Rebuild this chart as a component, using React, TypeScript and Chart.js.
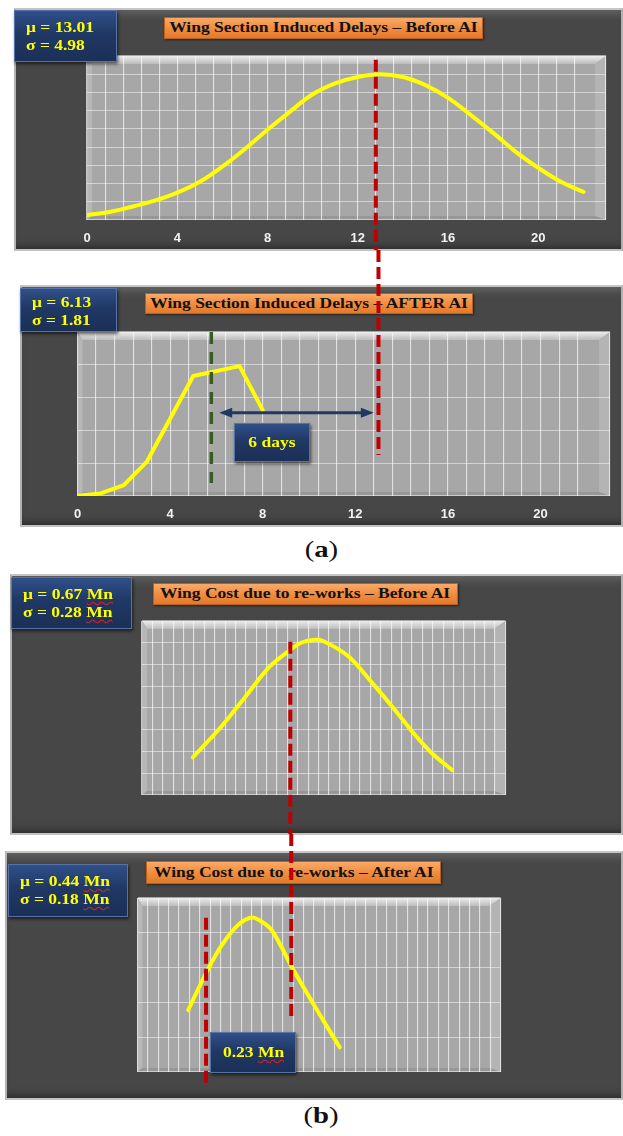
import React, { useEffect, useRef } from 'react';
import { Chart, registerables } from 'chart.js';

Chart.register(...registerables);

// ---------------- data ----------------
// (a) Wing section induced delays (days)
const DELAY_X_BEFORE = [0, 1, 2, 3, 4, 5, 6, 7, 8, 9, 10, 11, 12, 13, 14, 15, 16, 17, 18, 19, 20, 21, 22];
const DELAY_Y_BEFORE = [0.27, 0.44, 0.73, 1.06, 1.5, 2.1, 2.93, 3.9, 4.95, 5.95, 6.9, 7.5, 7.85, 8.0, 7.85, 7.4, 6.7, 5.77, 4.78, 3.74, 2.86, 2.1, 1.54];
const DELAY_X_AFTER = [0, 1, 2, 3, 5, 7, 8];
const DELAY_Y_AFTER = [0.01, 0.08, 0.33, 1.05, 3.66, 3.96, 2.62];
const DELAY_TICKS = [0, 4, 8, 12, 16, 20];
const DELAY_MEAN_LINE_BEFORE = 12.8;
const DELAY_MEAN_LINE_REF = 13.0;
const DELAY_MEAN_LINE_AFTER = 5.78;
const DELAY_GAP_RANGE = [6.12, 12.8];
const DELAY_GAP_LEVEL = 2.54;

// (b) Wing cost due to re-works (Mn)
const COST_X_BEFORE = [0.407, 0.48, 0.549, 0.614, 0.672, 0.699, 0.731, 0.758, 0.828, 0.892, 0.945, 0.999, 1.052, 1.106];
const COST_Y_BEFORE = [1.73, 3.07, 4.52, 5.9, 6.7, 7.0, 7.13, 7.08, 6.36, 5.13, 4.06, 2.91, 1.92, 1.15];
const COST_X_AFTER = [0.392, 0.44, 0.483, 0.526, 0.558, 0.579, 0.617, 0.676, 0.729, 0.772, 0.801];
const COST_Y_AFTER = [1.78, 2.84, 3.65, 4.22, 4.43, 4.39, 4.08, 2.93, 1.97, 1.21, 0.71];
const COST_MEAN_LINE_BEFORE = 0.67;
const COST_MEAN_LINE_AFTER = 0.44;

// texts
const TITLE_A1 = 'Wing Section Induced Delays – Before AI';
const TITLE_A2 = 'Wing Section Induced Delays – AFTER AI';
const TITLE_B1 = 'Wing Cost due to re-works – Before AI';
const TITLE_B2 = 'Wing Cost due to re-works – After AI';
const STATS_A1 = ['μ = 13.01', 'σ = 4.98'];
const STATS_A2 = ['μ = 6.13', 'σ = 1.81'];
const STATS_B1 = ['μ = 0.67', 'σ = 0.28'];
const STATS_B2 = ['μ = 0.44', 'σ = 0.18'];
const GAP_A = '6 days';
const GAP_B = '0.23';

// ---------------- styles ----------------
const SERIF = '"Liberation Serif", "Times New Roman", serif';
const RED = '#c00000';
const GREEN = '#3a5a24';
const NAVY = '#1f3864';

type Guide = { x: number; from: number | 'top'; to: number | 'bottom'; color: string; width: number; dash: number[] };

type Spec = {
  canvas: { left: number; top: number; width: number; height: number };
  pad: { left: number; right: number; top: number };
  axisH: number;
  xs: number[];
  ys: number[];
  xMin: number;
  xMax: number;
  yMax: number;
  xStep?: number;
  xCount?: number;
  showTicks: boolean;
  tension: number;
  guides: Guide[];
  arrow?: { x0: number; x1: number; y: number };
};

function makeConfig(s: Spec): any {
  const bevel = {
    id: 'bevel',
    beforeDraw(chart: any) {
      const { ctx, chartArea: a } = chart;
      ctx.save();
      ctx.fillStyle = '#a7a7a7';
      ctx.fillRect(a.left, a.top, a.width, a.height);
      const t = 8, r = 11, l = 5, b = 4;
      let g = ctx.createLinearGradient(0, a.top, 0, a.top + t);
      g.addColorStop(0, '#ececec');
      g.addColorStop(1, '#bcbcbc');
      ctx.fillStyle = g;
      ctx.beginPath();
      ctx.moveTo(a.left, a.top);
      ctx.lineTo(a.right, a.top);
      ctx.lineTo(a.right - r, a.top + t);
      ctx.lineTo(a.left + l, a.top + t);
      ctx.closePath();
      ctx.fill();
      ctx.fillStyle = '#b4b4b4';
      ctx.beginPath();
      ctx.moveTo(a.right, a.top);
      ctx.lineTo(a.right, a.bottom);
      ctx.lineTo(a.right - r, a.bottom - b);
      ctx.lineTo(a.right - r, a.top + t);
      ctx.closePath();
      ctx.fill();
      ctx.fillStyle = '#b7b7b7';
      ctx.beginPath();
      ctx.moveTo(a.left, a.top);
      ctx.lineTo(a.left + l, a.top + t);
      ctx.lineTo(a.left + l, a.bottom - b);
      ctx.lineTo(a.left, a.bottom);
      ctx.closePath();
      ctx.fill();
      ctx.fillStyle = '#979797';
      ctx.beginPath();
      ctx.moveTo(a.left, a.bottom);
      ctx.lineTo(a.left + l, a.bottom - b);
      ctx.lineTo(a.right - r, a.bottom - b);
      ctx.lineTo(a.right, a.bottom);
      ctx.closePath();
      ctx.fill();
      ctx.restore();
    },
  };
  const guides = {
    id: 'guides',
    afterDatasetsDraw(chart: any) {
      const { ctx } = chart;
      const xs = chart.scales.x;
      const ys = chart.scales.y;
      ctx.save();
      for (const gd of s.guides) {
        const px = xs.getPixelForValue(gd.x);
        const y0 = gd.from === 'top' ? 0 : ys.getPixelForValue(gd.from);
        const y1 = gd.to === 'bottom' ? chart.height : ys.getPixelForValue(gd.to);
        ctx.strokeStyle = gd.color;
        ctx.lineWidth = gd.width;
        ctx.setLineDash(gd.dash);
        ctx.beginPath();
        ctx.moveTo(px, y0);
        ctx.lineTo(px, y1);
        ctx.stroke();
      }
      if (s.arrow) {
        const x0 = xs.getPixelForValue(s.arrow.x0);
        const x1 = xs.getPixelForValue(s.arrow.x1);
        const y = ys.getPixelForValue(s.arrow.y);
        const hl = 13, hw = 5;
        ctx.setLineDash([]);
        ctx.strokeStyle = NAVY;
        ctx.fillStyle = NAVY;
        ctx.lineWidth = 3;
        ctx.beginPath();
        ctx.moveTo(x0 + hl - 2, y);
        ctx.lineTo(x1 - hl + 2, y);
        ctx.stroke();
        ctx.beginPath();
        ctx.moveTo(x0, y);
        ctx.lineTo(x0 + hl, y - hw);
        ctx.lineTo(x0 + hl, y + hw);
        ctx.closePath();
        ctx.fill();
        ctx.beginPath();
        ctx.moveTo(x1, y);
        ctx.lineTo(x1 - hl, y - hw);
        ctx.lineTo(x1 - hl, y + hw);
        ctx.closePath();
        ctx.fill();
      }
      ctx.restore();
    },
  };
  const xTicks: any = {
    display: s.showTicks,
    autoSkip: false,
    maxRotation: 0,
    minRotation: 0,
    padding: 11,
    color: '#f2f2f2',
    font: { family: '"Liberation Sans", Arial, sans-serif', weight: 'bold', size: 13 },
    callback: (v: any) => {
      const n = Number(v);
      return DELAY_TICKS.some((t) => Math.abs(t - n) < 1e-6) ? String(Math.round(n)) : '';
    },
  };
  if (s.xStep) xTicks.stepSize = s.xStep;
  if (s.xCount) xTicks.count = s.xCount;
  return {
    type: 'line',
    data: {
      datasets: [
        {
          data: s.xs.map((x, i) => ({ x, y: s.ys[i] })),
          borderColor: '#ffff00',
          borderWidth: 4,
          pointRadius: 0,
          tension: s.tension,
          fill: false,
          borderCapStyle: 'round',
          borderJoinStyle: 'round',
        },
      ],
    },
    options: {
      animation: false,
      responsive: false,
      events: [],
      layout: { padding: { left: s.pad.left, right: s.pad.right, top: s.pad.top, bottom: 0 } },
      plugins: { legend: { display: false }, tooltip: { enabled: false }, title: { display: false } },
      scales: {
        x: {
          type: 'linear',
          min: s.xMin,
          max: s.xMax,
          afterFit: (sc: any) => {
            sc.height = s.axisH;
          },
          border: { display: false },
          grid: { color: 'rgba(250,250,250,0.72)', lineWidth: 1.1, drawTicks: false },
          ticks: xTicks,
        },
        y: {
          type: 'linear',
          min: 0,
          max: s.yMax,
          afterFit: (sc: any) => {
            sc.width = 0;
          },
          border: { display: false },
          grid: { color: 'rgba(245,245,245,0.55)', lineWidth: 1.1, drawTicks: false },
          ticks: { display: false, stepSize: 1 },
        },
      },
    },
    plugins: [bevel, guides],
  };
}

function ChartCanvas({ spec }: { spec: Spec }) {
  const ref = useRef<HTMLCanvasElement>(null);
  useEffect(() => {
    const chart = new Chart(ref.current as HTMLCanvasElement, makeConfig(spec));
    return () => chart.destroy();
  }, []);
  const c = spec.canvas;
  return (
    <canvas
      ref={ref}
      width={c.width}
      height={c.height}
      style={{ position: 'absolute', left: c.left, top: c.top, width: c.width, height: c.height, zIndex: 2 }}
    />
  );
}

function Stretch({ children, origin = 'center' }: { children: any; origin?: string }) {
  return (
    <span style={{ display: 'inline-block', transform: 'scaleX(1.25)', transformOrigin: origin, whiteSpace: 'nowrap' }}>
      {children}
    </span>
  );
}

function Mn() {
  return (
    <span style={{ textDecorationLine: 'underline', textDecorationStyle: 'wavy', textDecorationColor: '#e02020', textDecorationThickness: '1px', textUnderlineOffset: '2px' }}>
      Mn
    </span>
  );
}

function Panel({ left, top, width, height }: { left: number; top: number; width: number; height: number }) {
  return (
    <div
      style={{
        position: 'absolute',
        left,
        top,
        width,
        height,
        boxSizing: 'border-box',
        background: '#474747',
        borderTop: '2px solid #c6c6c6',
        borderLeft: '2px solid #b3b3b3',
        borderBottom: '2px solid #c2c2c2',
        borderRight: '2px solid #b0b0b0',
        boxShadow: 'inset 0 10px 8px -6px rgba(255,255,255,0.16), inset 0 -8px 8px -6px rgba(0,0,0,0.45)',
        zIndex: 0,
      }}
    />
  );
}

function Title({ left, top, width, height, text }: { left: number; top: number; width: number; height: number; text: string }) {
  return (
    <div
      style={{
        position: 'absolute',
        left,
        top,
        width,
        height,
        boxSizing: 'border-box',
        background: 'linear-gradient(#f9aa66, #f08b3e 55%, #e37a2c)',
        border: '1px solid #b9601f',
        boxShadow: '1px 1px 2px rgba(0,0,0,0.5)',
        display: 'flex',
        alignItems: 'center',
        justifyContent: 'center',
        font: `bold 14px ${SERIF}`,
        color: '#121212',
        zIndex: 1,
      }}
    >
      <Stretch>{text}</Stretch>
    </div>
  );
}

const blueBg = 'linear-gradient(#30508a, #203864 45%, #1b3058)';

function StatBox({ left, top, width, height, padTop, lines, unit }: { left: number; top: number; width: number; height: number; padTop: number; lines: string[]; unit: boolean }) {
  return (
    <div
      style={{
        position: 'absolute',
        left,
        top,
        width,
        height,
        boxSizing: 'border-box',
        background: blueBg,
        border: '1px solid #5673a3',
        boxShadow: '1px 2px 3px rgba(0,0,0,0.6)',
        paddingLeft: 11,
        paddingTop: padTop,
        font: `bold 14px ${SERIF}`,
        lineHeight: '18px',
        color: '#ffff00',
        zIndex: 3,
      }}
    >
      {lines.map((l) => (
        <div key={l}>
          <Stretch origin="left">
            {l}
            {unit ? (
              <>
                {' '}
                <Mn />
              </>
            ) : null}
          </Stretch>
        </div>
      ))}
    </div>
  );
}

function ValueBox({ left, top, width, height, children }: { left: number; top: number; width: number; height: number; children: any }) {
  return (
    <div
      style={{
        position: 'absolute',
        left,
        top,
        width,
        height,
        boxSizing: 'border-box',
        background: blueBg,
        border: '1px solid #5673a3',
        boxShadow: '1px 2px 3px rgba(0,0,0,0.6)',
        display: 'flex',
        alignItems: 'center',
        justifyContent: 'center',
        font: `bold 14px ${SERIF}`,
        color: '#ffff00',
        zIndex: 3,
      }}
    >
      <Stretch>{children}</Stretch>
    </div>
  );
}

function Caption({ top, letter }: { top: number; letter: string }) {
  return (
    <div style={{ position: 'absolute', left: 0, top, width: 642, textAlign: 'center', font: `23px ${SERIF}`, color: '#111', zIndex: 1 }}>
      <Stretch>
        (<b>{letter}</b>)
      </Stretch>
    </div>
  );
}

const SPEC_A1: Spec = {
  canvas: { left: 14, top: 9, width: 609, height: 241 },
  pad: { left: 73, right: 17, top: 47 },
  axisH: 30,
  xs: DELAY_X_BEFORE,
  ys: DELAY_Y_BEFORE,
  xMin: 0,
  xMax: 23,
  yMax: 9,
  xStep: 0.8,
  showTicks: true,
  tension: 0.4,
  guides: [{ x: DELAY_MEAN_LINE_BEFORE, from: 8.8, to: 'bottom', color: RED, width: 4, dash: [12, 5] }],
};

const SPEC_A2: Spec = {
  canvas: { left: 21, top: 250, width: 602, height: 276 },
  pad: { left: 56.5, right: 13, top: 82 },
  axisH: 30,
  xs: DELAY_X_AFTER,
  ys: DELAY_Y_AFTER,
  xMin: 0,
  xMax: 23,
  yMax: 5,
  xStep: 0.8,
  showTicks: true,
  tension: 0,
  guides: [
    { x: DELAY_MEAN_LINE_REF, from: 'top', to: 1.25, color: RED, width: 4, dash: [12, 5] },
    { x: DELAY_MEAN_LINE_AFTER, from: 5, to: 0.4, color: GREEN, width: 3.5, dash: [12, 8] },
  ],
  arrow: { x0: DELAY_GAP_RANGE[0], x1: DELAY_GAP_RANGE[1], y: DELAY_GAP_LEVEL },
};

const SPEC_B1: Spec = {
  canvas: { left: 11, top: 575, width: 612, height: 259 },
  pad: { left: 131, right: 117.6, top: 46 },
  axisH: 39,
  xs: COST_X_BEFORE,
  ys: COST_Y_BEFORE,
  xMin: 0.27,
  xMax: 1.25,
  yMax: 8,
  xCount: 36,
  showTicks: false,
  tension: 0.3,
  guides: [{ x: COST_MEAN_LINE_BEFORE, from: 7.05, to: 'bottom', color: RED, width: 4, dash: [12, 5] }],
};

const SPEC_B2: Spec = {
  canvas: { left: 6, top: 834, width: 617, height: 265 },
  pad: { left: 131.5, right: 122.4, top: 64 },
  axisH: 27,
  xs: COST_X_AFTER,
  ys: COST_Y_AFTER,
  xMin: 0.255,
  xMax: 1.235,
  yMax: 5,
  xCount: 36,
  showTicks: false,
  tension: 0.3,
  guides: [
    { x: COST_MEAN_LINE_BEFORE, from: 'top', to: 1.55, color: RED, width: 4, dash: [12, 5] },
    { x: COST_MEAN_LINE_AFTER, from: 4.43, to: -0.45, color: RED, width: 4, dash: [12, 5] },
  ],
};

export default function App() {
  return (
    <div
      style={{
        position: 'absolute',
        left: 0,
        top: 0,
        width: 623,
        height: 1136,
        overflow: 'hidden',
        background: '#ffffff',
      }}
    >
      {/* (a) before */}
      <Panel left={14} top={8} width={609} height={243} />
      <Title left={164} top={17} width={319} height={22} text={TITLE_A1} />
      <ChartCanvas spec={SPEC_A1} />
      <StatBox left={14} top={10} width={103} height={52} padTop={8} lines={STATS_A1} unit={false} />

      {/* (a) after */}
      <Panel left={20} top={285} width={603} height={242} />
      <Title left={145} top={293} width={328} height={21} text={TITLE_A2} />
      <ChartCanvas spec={SPEC_A2} />
      <StatBox left={20} top={288} width={97} height={44} padTop={5} lines={STATS_A2} unit={false} />
      <ValueBox left={234} top={423} width={76} height={39}>
        {GAP_A}
      </ValueBox>

      <Caption top={537} letter="a" />

      {/* (b) before */}
      <Panel left={10} top={574} width={613} height={261} />
      <Title left={153} top={583} width={305} height={22} text={TITLE_B1} />
      <ChartCanvas spec={SPEC_B1} />
      <StatBox left={11} top={577} width={121} height={52} padTop={8} lines={STATS_B1} unit={true} />

      {/* (b) after */}
      <Panel left={5} top={851} width={618} height={249} />
      <Title left={146} top={861} width={295} height={23} text={TITLE_B2} />
      <ChartCanvas spec={SPEC_B2} />
      <StatBox left={8} top={864} width={120} height={53} padTop={8} lines={STATS_B2} unit={true} />
      <ValueBox left={210} top={1032} width={86} height={41}>
        {GAP_B} <Mn />
      </ValueBox>

      <Caption top={1103} letter="b" />
    </div>
  );
}
